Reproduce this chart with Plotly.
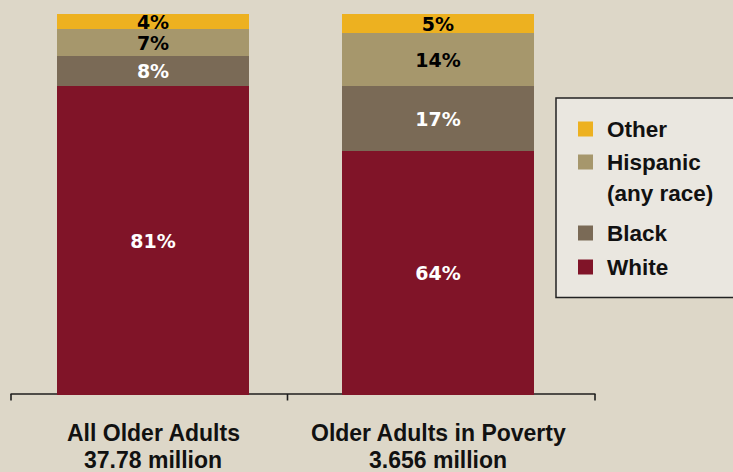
import plotly.graph_objects as go

# Share of older adults by race / ethnicity
categories = ["All Older Adults", "Older Adults in Poverty"]
totals = ["37.78 million", "3.656 million"]

groups = ["White", "Black", "Hispanic", "Other"]
legend_lines = {
    "White": ["White"],
    "Black": ["Black"],
    "Hispanic": ["Hispanic", "(any race)"],
    "Other": ["Other"],
}
shares = {
    "White": [81, 64],
    "Black": [8, 17],
    "Hispanic": [7, 14],
    "Other": [4, 5],
}

colors = {
    "White": "#801428",
    "Black": "#7A6A56",
    "Hispanic": "#A6976C",
    "Other": "#EDB120",
}
label_colors = {"White": "white", "Black": "white", "Hispanic": "black", "Other": "black"}

W, H = 733, 472
BG = "#DDD7C8"


def px(x):
    return x / W


def py(y):
    return 1 - y / H


fig = go.Figure()
for g in groups:
    fig.add_trace(go.Bar(
        x=categories,
        y=shares[g],
        name=g,
        marker=dict(color=colors[g], line=dict(width=0)),
        text=[f"<b>{v}%</b>" for v in shares[g]],
        textposition="inside",
        insidetextanchor="middle",
        constraintext="none",
        textangle=0,
        textfont=dict(family="DejaVu Sans", size=19, color=label_colors[g]),
        hoverinfo="skip",
        showlegend=False,
    ))

shapes = []
annotations = []

# baseline with end and divider ticks (drawn beneath the bars)
line_col = "#1E1E1E"
shapes.append(dict(type="line", xref="paper", yref="paper", layer="below",
                   x0=px(10.5), x1=px(595.5), y0=py(394), y1=py(394),
                   line=dict(color=line_col, width=1.6)))
for tx in (11, 287.5, 595):
    shapes.append(dict(type="line", xref="paper", yref="paper", layer="below",
                       x0=px(tx), x1=px(tx), y0=py(394), y1=py(400.5),
                       line=dict(color=line_col, width=1.6)))

# category labels
for c, t in zip(categories, totals):
    for text, yc in ((c, 433), (t, 460)):
        annotations.append(dict(
            x=c, xref="x", y=py(yc), yref="paper",
            text=f"<b>{text}</b>", showarrow=False,
            xanchor="center", yanchor="middle", align="center",
            font=dict(family="Liberation Sans", size=23, color="#111111"),
        ))

# legend box
shapes.append(dict(type="rect", xref="paper", yref="paper",
                   x0=px(556), x1=px(745), y0=py(98), y1=py(297.5),
                   fillcolor="#EAE7E0", line=dict(color="#222222", width=1.5)))
legend_rows = {"Other": 129, "Hispanic": 162, "Black": 233, "White": 267}
for g in groups:
    yc = legend_rows[g]
    shapes.append(dict(type="rect", xref="paper", yref="paper",
                       x0=px(578), x1=px(593), y0=py(yc - 7.5), y1=py(yc + 7.5),
                       fillcolor=colors[g], line=dict(width=0)))
    for i, line in enumerate(legend_lines[g]):
        annotations.append(dict(
            x=px(605), xref="paper", y=py(yc + 31 * i), yref="paper",
            text=f"<b>{line}</b>", showarrow=False,
            xanchor="left", yanchor="middle", align="left",
            font=dict(family="Liberation Sans", size=22.5, color="#111111"),
        ))

fig.update_layout(
    width=W, height=H,
    margin=dict(l=0, r=0, t=0, b=0),
    paper_bgcolor=BG, plot_bgcolor=BG,
    barmode="stack", bargap=0.326,
    showlegend=False,
    xaxis=dict(domain=[px(10.5), px(580.5)], showticklabels=False, showline=False,
               showgrid=False, zeroline=False, ticks=""),
    yaxis=dict(domain=[py(395), py(14)], range=[0, 100], visible=False),
    shapes=shapes,
    annotations=annotations,
)

fig.write_html("out.html")
